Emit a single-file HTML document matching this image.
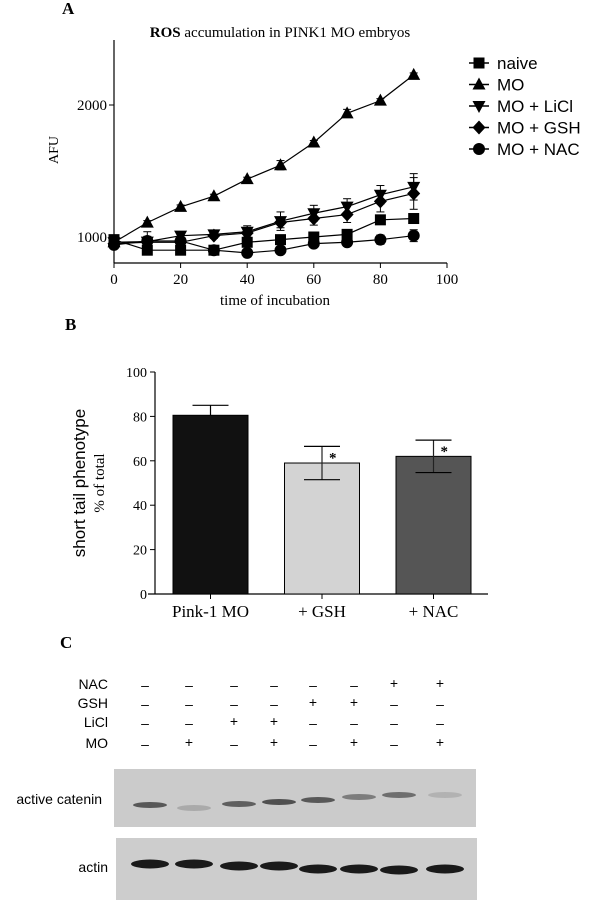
<!DOCTYPE html>
<html><head><meta charset="utf-8"><style>
body{margin:0;background:#fff;width:610px;height:900px;overflow:hidden;font-family:"Liberation Sans",sans-serif}
svg{display:block}
</style></head><body>
<svg width="610" height="900">
<g id="A"></g>
<g id="B"></g>
<g id="C"></g>
</svg>
<script>
const xs=[0,10,20,30,40,50,60,70,80,90];
const naive=[980,900,900,900,960,980,1000,1020,1130,1140];
const naiveErr=[30,20,15,15,20,25,25,25,20,25];
const mo=[960,1109,1228,1309,1438,1544,1716,1937,2033,2228];
const moErr=[20,15,15,15,15,35,15,30,15,15];
const licl=[960,965,1010,1020,1040,1120,1180,1230,1320,1380];
const liclErr=[25,40,25,20,45,70,60,60,70,100];
const gsh=[950,960,960,1010,1030,1110,1140,1170,1270,1330];
const gshErr=[25,30,20,20,30,40,50,60,80,120];
const nac=[940,970,970,900,880,900,950,960,980,1010];
const nacErr=[30,70,20,15,15,25,30,30,35,45];
const xTicks=[0,20,40,60,80,100];
const yTicks=[1000,2000];
const barCats=["Pink-1 MO","+ GSH","+ NAC"];
const barVals=[80.5,59,62];
const barErr=[4.5,7.5,7.3];
const barTicks=[0,20,40,60,80,100];
const blotRows=["NAC","GSH","LiCl","MO"];
const blotNAC=["–","–","–","–","–","–","+","+"];
const blotGSH=["–","–","–","–","+","+","–","–"];
const blotLiCl=["–","–","+","+","–","–","–","–"];
const blotMO=["–","+","–","+","–","+","–","+"];
const cateninInt=[0.75,0.2,0.7,0.8,0.75,0.5,0.6,0.15];

const NS="http://www.w3.org/2000/svg";
function mk(p,t,a,txt){const e=document.createElementNS(NS,t);for(const k in a)e.setAttribute(k,a[k]);if(txt!=null)e.textContent=txt;p.appendChild(e);return e;}
const serif='"Liberation Serif",serif', sans='"Liberation Sans",sans-serif';

// Panel A
const A=document.getElementById('A');
const ax=v=>114+v*3.33, ay=v=>237-(v-1000)*0.132;
let t;
t=mk(A,'text',{x:62,y:14,'font-family':serif,'font-weight':'bold','font-size':17},'A');

t=mk(A,'text',{x:280,y:37,'text-anchor':'middle','font-family':serif,'font-size':15});

mk(t,'tspan',{'font-weight':'bold'},'ROS');mk(t,'tspan',{},' accumulation in PINK1 MO embryos');
mk(A,'line',{x1:114,y1:40,x2:114,y2:263,stroke:'#000','stroke-width':1.2});
mk(A,'line',{x1:114,y1:263,x2:447,y2:263,stroke:'#000','stroke-width':1.2});
xTicks.forEach(v=>{mk(A,'line',{x1:ax(v),y1:263,x2:ax(v),y2:268,stroke:'#000'});
 t=mk(A,'text',{x:ax(v),y:284,'text-anchor':'middle','font-family':serif,'font-size':15},v);
 });
yTicks.forEach(v=>{mk(A,'line',{x1:109,y1:ay(v),x2:114,y2:ay(v),stroke:'#000'});
 t=mk(A,'text',{x:107,y:ay(v)+5,'text-anchor':'end','font-family':serif,'font-size':15},v);
 });
t=mk(A,'text',{x:275,y:305,'text-anchor':'middle','font-family':serif,'font-size':15},'time of incubation');

t=mk(A,'text',{x:0,y:0,transform:'translate(58,150) rotate(-90)','text-anchor':'middle','font-family':serif,'font-size':14},'AFU');

function marker(p,type,x,y){
 if(type==='sq')return mk(p,'rect',{x:x-5.5,y:y-5.5,width:11,height:11,fill:'#000'});
 if(type==='up')return mk(p,'polygon',{points:`${x},${y-7} ${x-6.5},${y+5} ${x+6.5},${y+5}`,fill:'#000'});
 if(type==='dn')return mk(p,'polygon',{points:`${x},${y+7} ${x-6.5},${y-5} ${x+6.5},${y-5}`,fill:'#000'});
 if(type==='di')return mk(p,'polygon',{points:`${x},${y-7} ${x+6.5},${y} ${x},${y+7} ${x-6.5},${y}`,fill:'#000'});
 return mk(p,'circle',{cx:x,cy:y,r:6,fill:'#000'});
}
const series=[["naive",naive,naiveErr,'sq'],["MO",mo,moErr,'up'],["MO + LiCl",licl,liclErr,'dn'],["MO + GSH",gsh,gshErr,'di'],["MO + NAC",nac,nacErr,'ci']];
series.forEach((s,i)=>{
 const g=mk(A,'g',{});
 
 
 mk(g,'polyline',{points:xs.map((x,j)=>ax(x)+','+ay(s[1][j])).join(' '),fill:'none',stroke:'#000','stroke-width':1.2});
 xs.forEach((x,j)=>{const X=ax(x),y1=ay(s[1][j]+s[2][j]),y2=ay(s[1][j]-s[2][j]);
  mk(g,'line',{x1:X,y1:y1,x2:X,y2:y2,stroke:'#000'});
  mk(g,'line',{x1:X-4,y1:y1,x2:X+4,y2:y1,stroke:'#000'});
  mk(g,'line',{x1:X-4,y1:y2,x2:X+4,y2:y2,stroke:'#000'});
  const m=marker(g,s[3],X,ay(s[1][j]));
  });
 const ly=63+i*21.5;
 const lg=mk(A,'g',{});
 
 mk(lg,'line',{x1:469,y1:ly,x2:489,y2:ly,stroke:'#000','stroke-width':1.5});
 marker(lg,s[3],479,ly);
 mk(lg,'text',{x:497,y:ly+6,'font-family':sans,'font-size':17},s[0]);
});

// Panel B
const B=document.getElementById('B');
const by=v=>594-v*2.22;
t=mk(B,'text',{x:65,y:330,'font-family':serif,'font-weight':'bold','font-size':17},'B');

mk(B,'line',{x1:155,y1:372,x2:155,y2:594,stroke:'#000','stroke-width':1.2});
mk(B,'line',{x1:148,y1:594,x2:488,y2:594,stroke:'#000','stroke-width':1.2});
barTicks.forEach(v=>{mk(B,'line',{x1:150,y1:by(v),x2:155,y2:by(v),stroke:'#000'});
 t=mk(B,'text',{x:147,y:by(v)+5,'text-anchor':'end','font-family':serif,'font-size':14},v);
 });
const fills=['#111','#d3d3d3','#555'];
barCats.forEach((c,i)=>{const x0=173+i*111.5,w=75,cx=x0+w/2;
 const r=mk(B,'rect',{x:x0,y:by(barVals[i]),width:w,height:by(0)-by(barVals[i]),fill:fills[i],stroke:'#000','stroke-width':1});
 
 const yt=by(barVals[i]+barErr[i]),yb=by(barVals[i]-barErr[i]);
 mk(B,'line',{x1:cx,y1:yt,x2:cx,y2:i===0?by(barVals[i]):yb,stroke:i===0?'#000':'#222','stroke-width':1.2});
 mk(B,'line',{x1:cx-18,y1:yt,x2:cx+18,y2:yt,stroke:'#000','stroke-width':1.2});
 if(i>0){mk(B,'line',{x1:cx-18,y1:yb,x2:cx+18,y2:yb,stroke:'#000','stroke-width':1.2});
  t=mk(B,'text',{x:cx+7,y:yt+16,'font-family':serif,'font-size':15,'font-weight':'bold'},'*');
  }
 mk(B,'line',{x1:cx,y1:594,x2:cx,y2:599,stroke:'#000'});
 t=mk(B,'text',{x:cx,y:617,'text-anchor':'middle','font-family':serif,'font-size':17},c);
 
});
t=mk(B,'text',{x:0,y:0,transform:'translate(85,483) rotate(-90)','text-anchor':'middle','font-family':sans,'font-size':17},'short tail phenotype');

t=mk(B,'text',{x:0,y:0,transform:'translate(104,483) rotate(-90)','text-anchor':'middle','font-family':serif,'font-size':15},'% of total');


// Panel C
const C=document.getElementById('C');
t=mk(C,'text',{x:60,y:648,'font-family':serif,'font-weight':'bold','font-size':17},'C');

const colX=[145,189,234,274,313,354,394,440];
const rowsData=[blotNAC,blotGSH,blotLiCl,blotMO];
const rowY=[689,708,727,748];
blotRows.forEach((r,i)=>{
 t=mk(C,'text',{x:108,y:rowY[i],'text-anchor':'end','font-family':sans,'font-size':14},r);
 
 rowsData[i].forEach((s,j)=>{t=mk(C,'text',{x:colX[j],y:rowY[i]-(s==='+'?1:-1),'text-anchor':'middle','font-family':sans,'font-size':14},s);
  });
});
let bg=mk(C,'rect',{x:114,y:769,width:362,height:58,fill:'#cbcbcb'});

bg=mk(C,'rect',{x:116,y:838,width:361,height:62,fill:'#cdcdcd'});

t=mk(C,'text',{x:102,y:804,'text-anchor':'end','font-family':sans,'font-size':14},'active catenin');

t=mk(C,'text',{x:108,y:872,'text-anchor':'end','font-family':sans,'font-size':14},'actin');

const catY=[805,808,804,802,800,797,795,795];
const actY=[864,864,866,866,869,869,870,869];
cateninInt.forEach((v,j)=>{const g=Math.round(200-v*150);
 const b=mk(C,'ellipse',{cx:colX[j]+5,cy:catY[j],rx:17,ry:3,fill:`rgb(${g},${g},${g})`});
 
 const a=mk(C,'ellipse',{cx:colX[j]+5,cy:actY[j],rx:19,ry:4.5,fill:'#1a1a1a'});
 });
</script>
</body></html>
